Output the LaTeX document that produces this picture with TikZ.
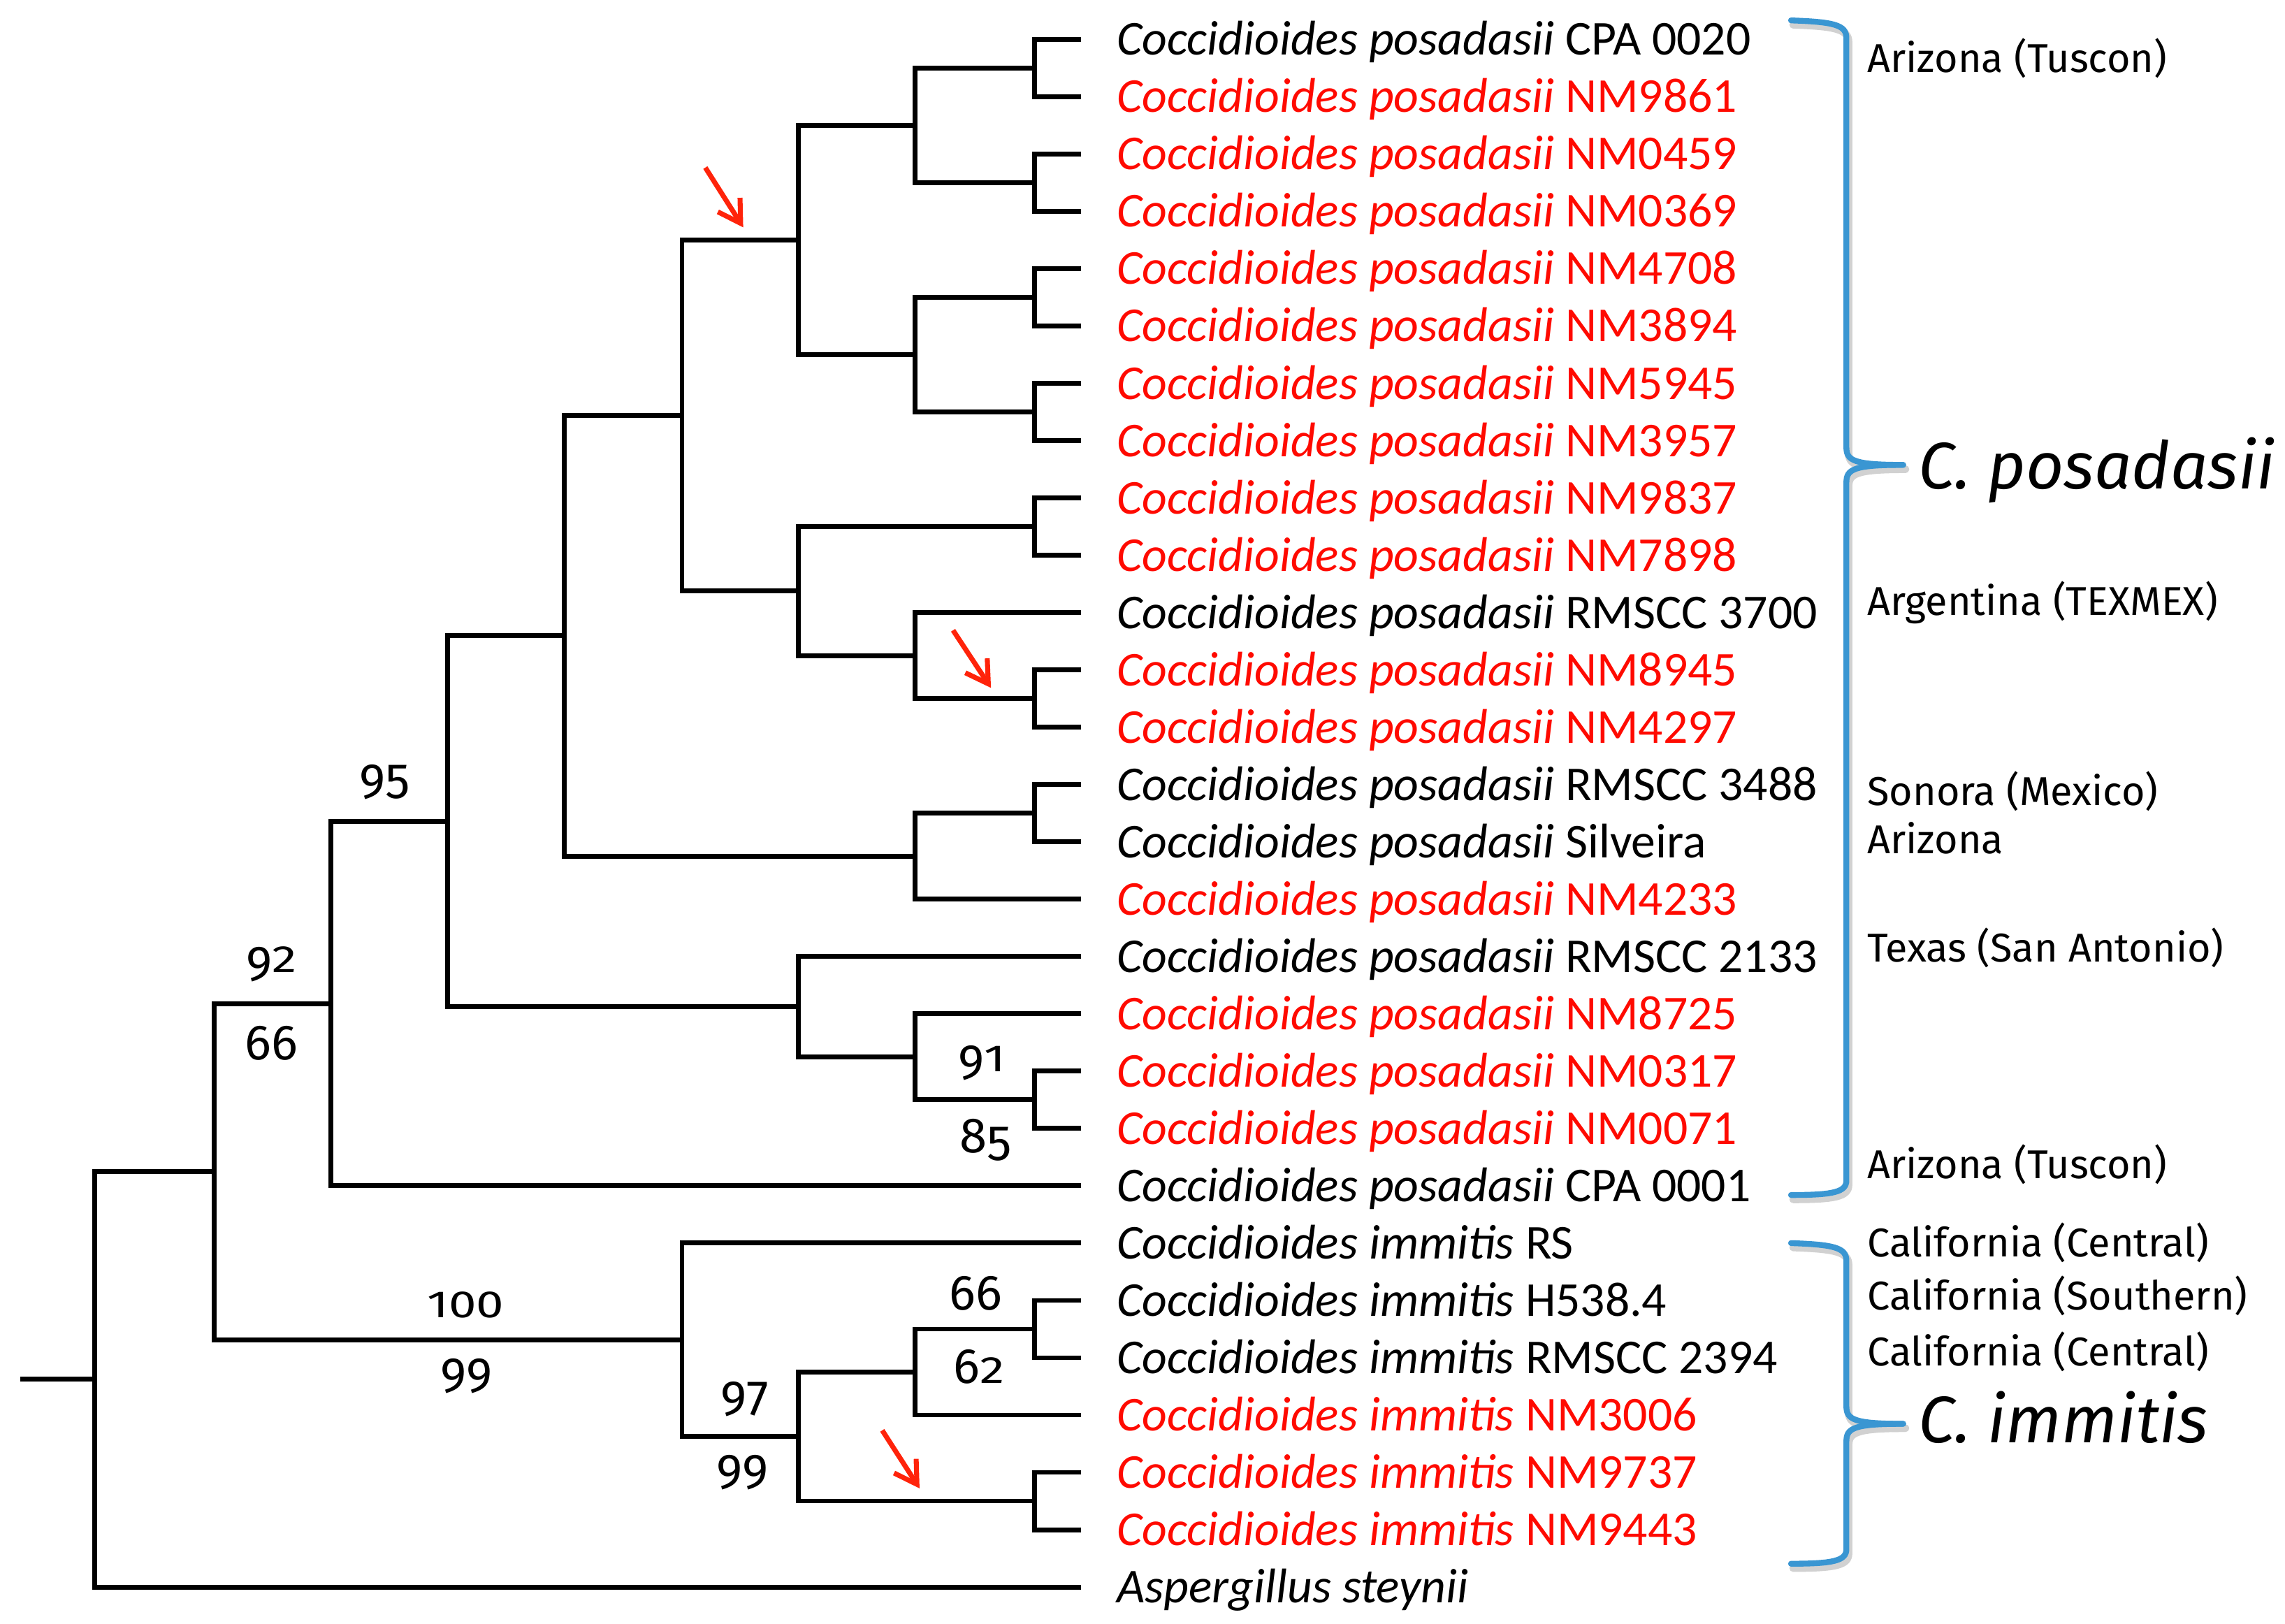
\documentclass[tikz,border=0pt]{standalone}
\usepackage{graphicx}
\usepackage{fontspec}
\setmainfont{Carlito}
\newfontfamily\locfont{Fira Sans}
\newfontfamily\bootfont{Fira Sans}
\usetikzlibrary{arrows.meta}
\definecolor{leafred}{RGB}{255,10,0}
\definecolor{arrred}{RGB}{255,35,10}
\definecolor{braceblue}{RGB}{58,150,210}
\newcommand\leafnode[4]{\node[leaflab,text=#2] (t#1) at ([shift={(24,10.8)}]l#1) {\textit{#3}#4};}
% old-style figure imitation: x-height figures and descending figures
\newcommand\osx[1]{\scalebox{1}[0.765]{#1}}
\newcommand\osd[1]{\raisebox{-0.16em}{#1}}
\begin{document}
\begin{tikzpicture}[x=0.5pt,y=-0.5pt,
  branch/.style={line width=1.65pt,line join=miter,black},
  leaflab/.style={anchor=base west,inner sep=0pt,font=\fontsize{16.7}{20}\selectfont},
  loclab/.style={anchor=base west,inner sep=0pt,font=\locfont\fontsize{13.8}{16}\selectfont},
  bootlab/.style={anchor=base,inner sep=0pt,font=\bootfont\fontsize{17}{20}\selectfont},
  spclab/.style={anchor=base west,inner sep=0pt,font=\locfont\itshape\fontsize{22.6}{28}\selectfont},
  bracepath/.style={line width=2pt,braceblue,line cap=round,line join=round},
  braceshadow/.style={line width=2.6pt,black!18,line cap=round,line join=round},
  redarrow/.style={line width=1.7pt,arrred,-{Straight Barb[length=7.5pt,width=9pt,line width=1.7pt]}}]
\useasboundingbox (0,0) rectangle (1568,1114);
\fill[white] (0,0) rectangle (1568,1114);

% leaves
\foreach \i/\y in {1/27.0,2/66.33,3/105.67,4/145.0,5/184.33,6/223.67,7/263.0,8/302.33,9/341.67,10/381.0,11/420.33,12/459.67,13/499.0,14/538.33,15/577.67,16/617.0,17/656.33,18/695.67,19/735.0,20/774.33,21/813.67,22/853.0,23/892.33,24/931.67,25/971.0,26/1010.33,27/1049.67,28/1089.0}
  \coordinate (l\i) at (742,\y);

% internal nodes
\coordinate (a12) at (710,46.67);
\coordinate (a34) at (710,125.33);
\coordinate (a56) at (710,204.0);
\coordinate (a78) at (710,282.67);
\coordinate (a910) at (710,361.33);
\coordinate (a1213) at (710,479.33);
\coordinate (a1415) at (710,558.0);
\coordinate (a1920) at (710,754.67);
\coordinate (a2324) at (710,912.0);
\coordinate (a2627) at (710,1030.0);
\coordinate (b14) at (628,86.0);
\coordinate (b58) at (628,243.33);
\coordinate (b1113) at (628,449.83);
\coordinate (b1416) at (628,587.5);
\coordinate (b1820) at (628,725.17);
\coordinate (b2325) at (628,941.5);
\coordinate (c18) at (548,164.67);
\coordinate (c913) at (548,405.58);
\coordinate (c1720) at (548,690.75);
\coordinate (c2327) at (548,985.75);
\coordinate (d113) at (468,285.13);
\coordinate (d2227) at (468,919.38);
\coordinate (e116) at (387,436.31);
\coordinate (f120) at (307,563.53);
\coordinate (g121) at (227,688.6);
\coordinate (h127) at (147,803.99);
\coordinate (r) at (65,946.5);
\coordinate (stub) at (14,946.5);

\foreach \p/\c in {a12/l1,a12/l2,a34/l3,a34/l4,a56/l5,a56/l6,a78/l7,a78/l8,a910/l9,a910/l10,a1213/l12,a1213/l13,a1415/l14,a1415/l15,a1920/l19,a1920/l20,a2324/l23,a2324/l24,a2627/l26,a2627/l27,
  b14/a12,b14/a34,b58/a56,b58/a78,b1113/l11,b1113/a1213,b1416/a1415,b1416/l16,b1820/l18,b1820/a1920,b2325/a2324,b2325/l25,
  c18/b14,c18/b58,c913/a910,c913/b1113,c1720/l17,c1720/b1820,c2327/b2325,c2327/a2627,
  d113/c18,d113/c913,d2227/l22,d2227/c2327,e116/d113,e116/b1416,f120/e116,f120/c1720,
  g121/f120,g121/l21,h127/g121,h127/d2227,r/h127,r/l28}
  \draw[branch] (\p) |- (\c);
\draw[branch] (stub) -- (r);

% leaf labels
\leafnode{1}{black}{Coccidioides posadasii}{ CPA 0020}
\leafnode{2}{leafred}{Coccidioides posadasii}{ NM9861}
\leafnode{3}{leafred}{Coccidioides posadasii}{ NM0459}
\leafnode{4}{leafred}{Coccidioides posadasii}{ NM0369}
\leafnode{5}{leafred}{Coccidioides posadasii}{ NM4708}
\leafnode{6}{leafred}{Coccidioides posadasii}{ NM3894}
\leafnode{7}{leafred}{Coccidioides posadasii}{ NM5945}
\leafnode{8}{leafred}{Coccidioides posadasii}{ NM3957}
\leafnode{9}{leafred}{Coccidioides posadasii}{ NM9837}
\leafnode{10}{leafred}{Coccidioides posadasii}{ NM7898}
\leafnode{11}{black}{Coccidioides posadasii}{ RMSCC 3700}
\leafnode{12}{leafred}{Coccidioides posadasii}{ NM8945}
\leafnode{13}{leafred}{Coccidioides posadasii}{ NM4297}
\leafnode{14}{black}{Coccidioides posadasii}{ RMSCC 3488}
\leafnode{15}{black}{Coccidioides posadasii}{ Silveira}
\leafnode{16}{leafred}{Coccidioides posadasii}{ NM4233}
\leafnode{17}{black}{Coccidioides posadasii}{ RMSCC 2133}
\leafnode{18}{leafred}{Coccidioides posadasii}{ NM8725}
\leafnode{19}{leafred}{Coccidioides posadasii}{ NM0317}
\leafnode{20}{leafred}{Coccidioides posadasii}{ NM0071}
\leafnode{21}{black}{Coccidioides posadasii}{ CPA 0001}
\leafnode{22}{black}{Coccidioides immitis}{ RS}
\leafnode{23}{black}{Coccidioides immitis}{ H538.4}
\leafnode{24}{black}{Coccidioides immitis}{ RMSCC 2394}
\leafnode{25}{leafred}{Coccidioides immitis}{ NM3006}
\leafnode{26}{leafred}{Coccidioides immitis}{ NM9737}
\leafnode{27}{leafred}{Coccidioides immitis}{ NM9443}
\leafnode{28}{black}{Aspergillus steynii}{}

% bootstrap values (old-style figures)
\node[bootlab] (bs95) at (264,542.3) {\osd{9}\osd{5}};
\node[bootlab] (bs92) at (186.4,667.4) {\osd{9}\osx{2}};
\node[bootlab] (bs66a) at (186.4,727) {66};
\node[bootlab] (bs100) at (319.5,904.2) {\osx{1}\osx{0}\osx{0}};
\node[bootlab] (bs99a) at (320,949.9) {\osd{9}\osd{9}};
\node[bootlab] (bs91) at (673.7,735.2) {\osd{9}\osx{1}};
\node[bootlab] (bs85) at (676.4,790.8) {8\osd{5}};
\node[bootlab] (bs66b) at (669.5,898.9) {66};
\node[bootlab] (bs62) at (671.7,949.2) {6\osx{2}};
\node[bootlab] (bs97) at (511.2,966) {\osd{9}\osd{7}};
\node[bootlab] (bs99b) at (509.4,1016) {\osd{9}\osd{9}};

% red arrows
\coordinate (ar1s) at (484,115);
\coordinate (ar1e) at (510,156);
\coordinate (ar2s) at (654,432.5);
\coordinate (ar2e) at (680,472);
\coordinate (ar3s) at (605.4,981.5);
\coordinate (ar3e) at (631,1021.3);
\draw[redarrow] (ar1s) -- (ar1e);
\draw[redarrow] (ar2s) -- (ar2e);
\draw[redarrow] (ar3s) -- (ar3e);

% braces
\foreach \st/\dx/\dy in {braceshadow/1.5/3, bracepath/0/0}{
\begin{scope}[shift={(\dx,\dy)}]
\draw[\st] (1229,14) .. controls (1258,15) and (1267,17) .. (1267,26) -- (1267,307)
   .. controls (1267,316) and (1272,319) .. (1306,319);
\draw[\st] (1306,319) .. controls (1272,319) and (1267,322) .. (1267,331) -- (1267,810)
   .. controls (1267,818) and (1258,820) .. (1229,820);
\draw[\st] (1229,853) .. controls (1258,854) and (1267,856) .. (1267,865) -- (1267,965)
   .. controls (1267,974) and (1272,977) .. (1306,977);
\draw[\st] (1306,977) .. controls (1272,977) and (1267,980) .. (1267,989) -- (1267,1063)
   .. controls (1267,1071) and (1258,1073) .. (1229,1073);
\end{scope}}

% locations
\node[loclab] (loc1) at (1281,49.7) {Arizona (Tuscon)};
\node[loclab] (loc2) at (1281,422) {Argentina (TEXMEX)};
\node[loclab] (loc3) at (1281,552.8) {Sonora (Mexico)};
\node[loclab] (loc4) at (1281,585.5) {Arizona};
\node[loclab] (loc5) at (1281,659.9) {Texas (San Antonio)};
\node[loclab] (loc6) at (1281,808.9) {Arizona (Tuscon)};
\node[loclab] (loc7) at (1281,862.5) {California (Central)};
\node[loclab] (loc8) at (1281,898.6) {California (Southern)};
\node[loclab] (loc9) at (1281,937.4) {California (Central)};

% species
\node[spclab] (sp1) at (1316,335.5) {C. posadasii};
\node[spclab] (sp2) at (1316,990) {C. immitis};
\end{tikzpicture}
\end{document}
